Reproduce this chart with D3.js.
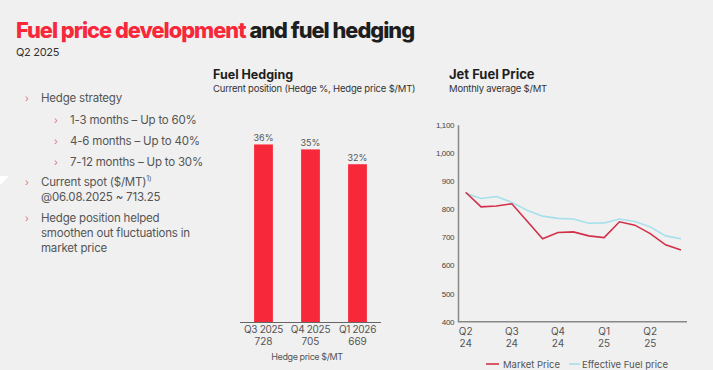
<!DOCTYPE html>
<html>
<head>
<meta charset="utf-8">
<script src="https://cdn.jsdelivr.net/npm/d3@7"></script>
<style>
  body { margin:0; background:#f0f0f0; }
  svg { display:block; font-family:"Inter","Roboto",sans-serif; }
</style>
</head>
<body>
<div id="chart"></div>
<script>
// Data

var hedgeQuarters = ["Q3 2025","Q4 2025","Q1 2026"],
	hedgePrices = ["728","705","669"],
	hedgePct = [36,35,32];

var months = d3.range(15); // Apr 2024 .. Jun 2025
var marketPrice = [860,808,811,819,757,695,717,719,705,699,755,743,713,673,655],
	effectivePrice = [856,838,845,824,796,775,767,765,750,751,765,756,737,705,695];

var quarterTicks = [0,3,6,9,12],
	quarterLabels = [["Q2","24"],["Q3","24"],["Q4","24"],["Q1","25"],["Q2","25"]];

var priceTicks = [400,500,600,700,800,900,1000,1100];

var bullets = [
	{lvl:0, lines:["Hedge strategy"]},
	{lvl:1, lines:["1-3 months \u2013 Up to 60%"]},
	{lvl:1, lines:["4-6 months \u2013 Up to 40%"]},
	{lvl:1, lines:["7-12 months \u2013 Up to 30%"]},
	{lvl:0, lines:["Current spot ($/MT)", "@06.08.2025 ~ 713.25"], sup:"1)"},
	{lvl:0, lines:["Hedge position helped","smoothen out fluctuations in","market price"]}
];

var W = 713, H = 370;
var red = "#f8283b", dark = "#1e1e1e", grey = "#555";

var svg = d3.select("#chart").append("svg").attr("width",W).attr("height",H);
svg.append("rect").attr("width",W).attr("height",H).attr("fill","#f0f0f0");

// small white corner mark
svg.append("path").attr("d","M0,176L9,176L0,185Z").attr("fill","white");

// Title: two texts, sized so the whole line spans ~408px like the reference

var t1 = svg.append("text").attr("x",16).attr("y",38).attr("fill",red)
	.style("font-weight",800).style("letter-spacing","-1px")
	.text("Fuel price development");
var t2 = svg.append("text").attr("y",38).attr("fill",dark)
	.style("font-weight",800).style("letter-spacing","-1px")
	.text("and fuel hedging");
t1.style("font-size","28px"); t2.style("font-size","28px");
var total = t1.node().getComputedTextLength() + t2.node().getComputedTextLength();
var fs = Math.min(28, 28*403/total);
t1.style("font-size",fs+"px"); t2.style("font-size",fs+"px");
t2.attr("x",16 + t1.node().getComputedTextLength() + 4);

svg.append("text").attr("x",16).attr("y",56).attr("fill","#333")
	.style("font-size","11px").style("letter-spacing","-0.3px").text("Q2 2025");

// Bullets

var by = [98,120,141,162,182,218];
bullets.forEach(function(b,i){
	var x = b.lvl==0 ? 41 : 70;
	svg.append("text").attr("x",x-16).attr("y",by[i]+4).attr("fill","#e0707c")
		.style("font-size","10px").text("\u203a");
	b.lines.forEach(function(l,j){
		var t = svg.append("text").attr("x",x).attr("y",by[i]+4+j*15).attr("fill",grey)
			.style("font-size","11.5px").style("letter-spacing","-0.2px").text(l);
		if (b.sup && j==0) {
			t.append("tspan").attr("dy",-5).style("font-size","7px").text(b.sup);
		}
	});
});

// Fuel Hedging bar chart

svg.append("text").attr("x",213).attr("y",79).attr("fill",dark)
	.style("font-weight",700).style("font-size","12.5px").text("Fuel Hedging");
svg.append("text").attr("x",213).attr("y",92).attr("fill","#333")
	.style("font-size","9.5px").style("letter-spacing","-0.2px")
	.text("Current position (Hedge %, Hedge price $/MT)");

var xb = d3.scaleBand().domain(hedgeQuarters).range([240,381]).paddingInner(0.6).paddingOuter(0.3);
var yb = d3.scaleLinear().domain([0,40]).range([322.3,124.7]);

svg.selectAll(".bar").data(hedgePct).enter().append("rect")
	.attr("class","bar")
	.attr("x",function(d,i){return xb(hedgeQuarters[i])})
	.attr("width",xb.bandwidth())
	.attr("y",function(d){return yb(d)})
	.attr("height",function(d){return yb(0)-yb(d)})
	.attr("fill",red);

svg.selectAll(".barlab").data(hedgePct).enter().append("text")
	.attr("x",function(d,i){return xb(hedgeQuarters[i])+xb.bandwidth()/2})
	.attr("y",function(d){return yb(d)-3})
	.attr("text-anchor","middle").attr("fill",grey).style("font-size","9px")
	.text(function(d){return d+"%"});

svg.append("line").attr("x1",240).attr("x2",381).attr("y1",322.5).attr("y2",322.5)
	.attr("stroke","#666").attr("stroke-width",1);

hedgeQuarters.forEach(function(q,i){
	var cx = xb(q)+xb.bandwidth()/2;
	svg.append("text").attr("x",cx).attr("y",333).attr("text-anchor","middle")
		.attr("fill",grey).style("font-size","10px").style("letter-spacing","-0.3px").text(q);
	svg.append("text").attr("x",cx).attr("y",345).attr("text-anchor","middle")
		.attr("fill",grey).style("font-size","10px").text(hedgePrices[i]);
});
svg.append("text").attr("x",307).attr("y",360).attr("text-anchor","middle")
	.attr("fill",grey).style("font-size","9px").style("letter-spacing","-0.4px").text("Hedge price $/MT");

// Jet fuel line chart

svg.append("text").attr("x",449).attr("y",79).attr("fill",dark)
	.style("font-weight",700).style("font-size","13px").text("Jet Fuel Price");
svg.append("text").attr("x",449).attr("y",92).attr("fill","#333")
	.style("font-size","9.5px").style("letter-spacing","-0.2px").text("Monthly average $/MT");

var xl = d3.scaleLinear().domain([0,14]).range([465.7,681]);
var yl = d3.scaleLinear().domain([400,1100]).range([321.7,124.7]);

var yAxis = svg.append("g").attr("transform","translate(458,0)")
	.call(d3.axisLeft(yl).tickValues(priceTicks).tickSize(0).tickPadding(4).tickFormat(d3.format(",")));
yAxis.select(".domain").attr("stroke","#888").attr("stroke-width",1.5);
yAxis.selectAll("text").attr("fill","#444").style("font-size","8px").style("letter-spacing","-0.4px");

svg.append("line").attr("x1",458).attr("x2",687).attr("y1",yl(400)).attr("y2",yl(400))
	.attr("stroke","#888").attr("stroke-width",1.5);

quarterTicks.forEach(function(m,i){
	quarterLabels[i].forEach(function(l,j){
		svg.append("text").attr("x",xl(m)).attr("y",335+j*11.5).attr("text-anchor","middle")
			.attr("fill",grey).style("font-size","10px").text(l);
	});
});

var line = d3.line().x(function(d,i){return xl(months[i])}).y(function(d){return yl(d)});

svg.append("path").datum(effectivePrice).attr("d",line)
	.attr("fill","none").attr("stroke","#a6e0ec").attr("stroke-width",1.6);
svg.append("path").datum(marketPrice).attr("d",line)
	.attr("fill","none").attr("stroke","#d2304a").attr("stroke-width",1.6);

// legend
svg.append("line").attr("x1",486).attr("x2",499).attr("y1",364).attr("y2",364)
	.attr("stroke","#d2304a").attr("stroke-width",1.6);
svg.append("text").attr("x",503).attr("y",367.5).attr("fill",grey)
	.style("font-size","9.5px").text("Market Price");
svg.append("line").attr("x1",569).attr("x2",580).attr("y1",364).attr("y2",364)
	.attr("stroke","#a6e0ec").attr("stroke-width",1.6);
svg.append("text").attr("x",582).attr("y",367.5).attr("fill",grey)
	.style("font-size","9.5px").text("Effective Fuel price");
</script>
</body>
</html>
